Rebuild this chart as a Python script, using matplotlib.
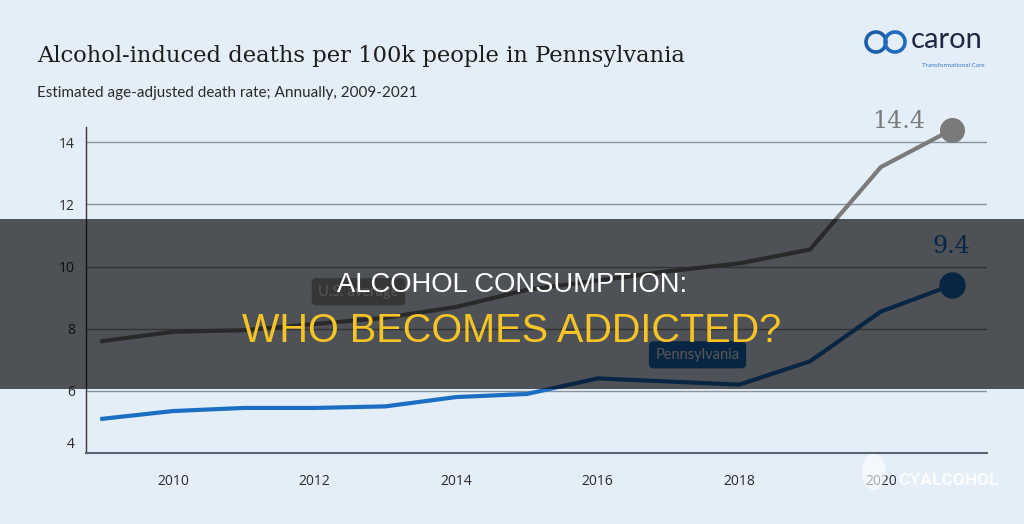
import matplotlib

matplotlib.use("Agg")
import matplotlib.pyplot as plt
from matplotlib.patches import Ellipse, Rectangle
from matplotlib.transforms import ScaledTranslation

# Values.
years = [2009, 2010, 2011, 2012, 2013, 2014, 2015, 2016, 2017, 2018, 2019, 2020, 2021]
us_average = [7.6, 7.9, 7.95, 8.15, 8.35, 8.7, 9.25, 9.55, 9.85, 10.1, 10.55, 13.2, 14.4]
pennsylvania = [5.1, 5.35, 5.45, 5.45, 5.5, 5.8, 5.9, 6.4, 6.3, 6.2, 6.95, 8.55, 9.4]
y_ticks = [4, 6, 8, 10, 12, 14]
x_ticks = [2010, 2012, 2014, 2016, 2018, 2020]

TITLE = "Alcohol-induced deaths per 100k people in Pennsylvania"
SUBTITLE = "Estimated age-adjusted death rate; Annually, 2009-2021"
BAND_TOP = "ALCOHOL CONSUMPTION:"
BAND_BOTTOM = "WHO BECOMES ADDICTED?"

BG = "#e4eef8"
US_COLOR = "#7a7a7a"
PA_COLOR = "#1a6fc4"
W, H = 1024, 524


def fx(px):
    return px / W


def fy(py):
    # pixel rows are counted from the top of the picture
    return 1 - py / H


fig = plt.figure(figsize=(W / 100, H / 100), dpi=100, facecolor=BG)
ax = fig.add_axes([fx(86), fy(453), fx(987 - 86), (453 - 127) / H])
ax.set_facecolor(BG)
ax.set_xlim(2008.77, 2021.5)
ax.set_ylim(4, 14.49)

ax.plot(years, us_average, color=US_COLOR, lw=3, solid_joinstyle="miter", zorder=3)
ax.plot(years, pennsylvania, color=PA_COLOR, lw=3, solid_joinstyle="miter", zorder=3)
ax.plot(years[-1], us_average[-1], "o", ms=17, color=US_COLOR, zorder=4, clip_on=False)
ax.plot(years[-1], pennsylvania[-1], "o", ms=18, color=PA_COLOR, zorder=4, clip_on=False)

ax.annotate(f"{us_average[-1]:.1f}", xy=(years[-1], us_average[-1]), xytext=(-53, 8),
            textcoords="offset pixels", ha="center", va="center",
            fontsize=17, family="DejaVu Serif", color=US_COLOR)
ax.annotate(f"{pennsylvania[-1]:.1f}", xy=(years[-1], pennsylvania[-1]), xytext=(0, 39),
            textcoords="offset pixels", ha="center", va="center",
            fontsize=17, family="DejaVu Serif", color=PA_COLOR)

ax.text(2012.62, 9.19, "U.S. average", ha="center", va="center", fontsize=10.5,
        family="Lato", color="white", zorder=5,
        bbox=dict(boxstyle="round,pad=0.45,rounding_size=0.3", fc="#a0a0a0", ec="none"))
ax.text(2017.41, 7.16, "Pennsylvania", ha="center", va="center", fontsize=10.5,
        family="Lato", color="white", zorder=5,
        bbox=dict(boxstyle="round,pad=0.45,rounding_size=0.3", fc=PA_COLOR, ec="none"))

ax.set_yticks(y_ticks)
ax.set_xticks(x_ticks)
ax.grid(axis="y", color="#8c939c", lw=1)
ax.set_axisbelow(True)
ax.tick_params(axis="y", length=0, pad=8, labelsize=10, labelcolor="#2b2b2b")
ax.tick_params(axis="x", length=0, pad=15, labelsize=10, labelcolor="#2b2b2b")
for label in ax.get_xticklabels() + ax.get_yticklabels():
    label.set_family("Open Sans")
# the lowest y label sits a little above the axis line
low = ax.get_yticklabels()[0]
low.set_transform(low.get_transform() + ScaledTranslation(0, 0.10, fig.dpi_scale_trans))

for side in ("top", "right"):
    ax.spines[side].set_visible(False)
ax.spines["left"].set_color("#333333")
ax.spines["left"].set_linewidth(1)
ax.spines["bottom"].set_color("#5a6472")
ax.spines["bottom"].set_linewidth(1.5)

fig.text(fx(37), fy(61.7), TITLE, family="DejaVu Serif", fontsize=16.3,
         color="#1c1c1c", va="baseline")
fig.text(fx(37), fy(96.7), SUBTITLE, family="Lato", fontsize=11,
         color="#2a2a2a", va="baseline")

# logo, top right
fig.add_artist(Ellipse((fx(876), fy(42)), fx(20), 20 / H, fill=False,
                       ec="#1c5ea8", lw=2.6))
fig.add_artist(Ellipse((fx(895), fy(42)), fx(20), 20 / H, fill=False,
                       ec="#1f6cbd", lw=2.6))
fig.text(fx(911), fy(48), "caron", family="Lato", fontsize=21, color="#1e2a45",
         va="baseline")
fig.text(fx(922), fy(67), "Transformational Care", family="Lato", fontsize=4.6,
         color="#3f78bd", va="baseline")

# watermark, bottom right
fig.add_artist(Ellipse((fx(874), fy(472)), fx(24), 36 / H, color="white",
                       alpha=0.6, lw=0))
fig.text(fx(898), fy(485), "CYALCOHOL", family="Roboto", fontsize=12.5,
         weight="bold", color="white", alpha=0.85, va="baseline")

# dark banner across the middle
fig.add_artist(Rectangle((0, fy(389)), 1, (389 - 219) / H, transform=fig.transFigure,
                         color="black", alpha=0.66, lw=0, zorder=10))
fig.text(0.5, fy(291.7), BAND_TOP, family="Liberation Sans", fontsize=19.7,
         color="white", ha="center", va="baseline", zorder=11)
fig.text(0.5, fy(341.7), BAND_BOTTOM, family="Liberation Sans", fontsize=28.5,
         color="#f6c425", ha="center", va="baseline", zorder=11)

fig.savefig("out.png", dpi=100, facecolor=BG)
